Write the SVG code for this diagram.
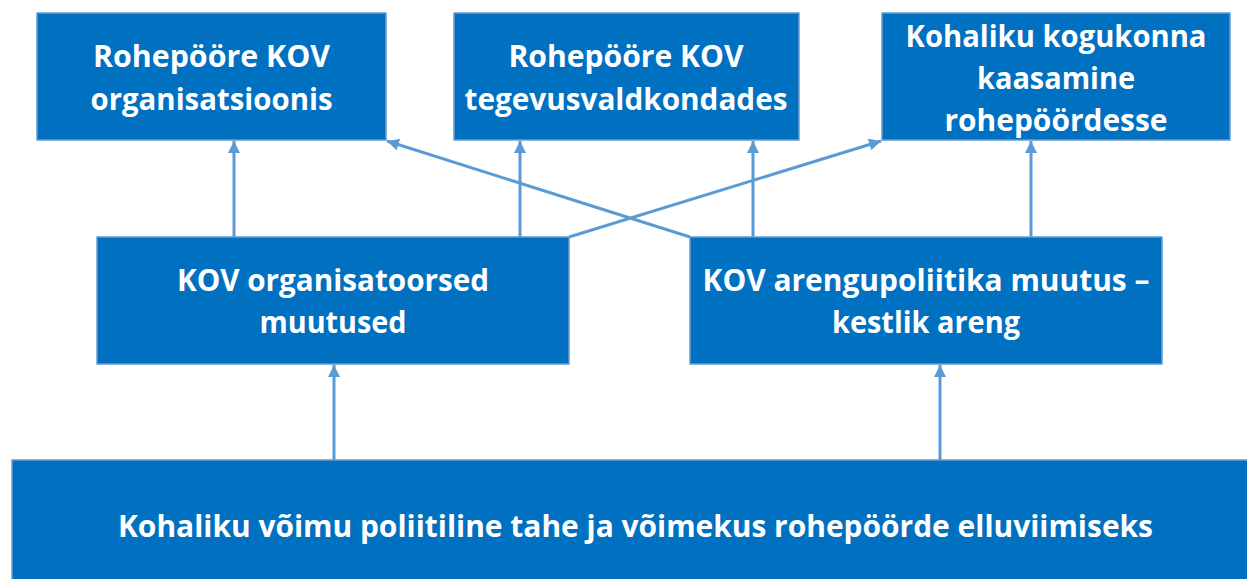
<svg xmlns="http://www.w3.org/2000/svg" width="1247" height="579" viewBox="0 0 1247 579">
<style>
.box{fill:#0070C0;stroke:#6A9BCB;stroke-width:1.5}
.t{font-family:"Open Sans","Noto Sans","Liberation Sans",sans-serif;font-weight:bold;font-size:31px;fill:#FFFFFF;text-anchor:middle}
.c{stroke:#5B9BD5;stroke-width:3;fill:none;marker-end:url(#ah)}
</style>
<defs>
<marker id="ah" markerUnits="userSpaceOnUse" markerWidth="14" markerHeight="12" refX="12" refY="6" orient="auto">
<path d="M0,0 L12,6 L0,12 Z" fill="#5B9BD5"/>
</marker>
</defs>
<rect width="1247" height="579" fill="#FFFFFF"/>
<g id="connectors">
<line class="c" x1="234" y1="237" x2="234" y2="141"/>
<line class="c" x1="520" y1="237" x2="520" y2="141"/>
<line class="c" x1="753" y1="237" x2="753" y2="141"/>
<line class="c" x1="1031" y1="237" x2="1031" y2="141"/>
<line class="c" x1="569" y1="237" x2="881" y2="141"/>
<line class="c" x1="690" y1="237" x2="387" y2="141"/>
<line class="c" x1="334" y1="460" x2="334" y2="365"/>
<line class="c" x1="940" y1="460" x2="940" y2="365"/>
</g>
<g id="n1">
<rect class="box" x="37" y="13" width="349" height="127"/>
<text class="t" x="211.5" y="67" textLength="237" lengthAdjust="spacingAndGlyphs">Rohepööre KOV</text>
<text class="t" x="211.5" y="110" textLength="242" lengthAdjust="spacingAndGlyphs">organisatsioonis</text>
</g>
<g id="n2">
<rect class="box" x="454" y="13" width="345" height="127"/>
<text class="t" x="626" y="67" textLength="235" lengthAdjust="spacingAndGlyphs">Rohepööre KOV</text>
<text class="t" x="626" y="110" textLength="323" lengthAdjust="spacingAndGlyphs">tegevusvaldkondades</text>
</g>
<g id="n3">
<rect class="box" x="882" y="13" width="348" height="127"/>
<text class="t" x="1056" y="47" textLength="301" lengthAdjust="spacingAndGlyphs">Kohaliku kogukonna</text>
<text class="t" x="1056" y="89" textLength="158" lengthAdjust="spacingAndGlyphs">kaasamine</text>
<text class="t" x="1056" y="131" textLength="223" lengthAdjust="spacingAndGlyphs">rohepöördesse</text>
</g>
<g id="n4">
<rect class="box" x="97" y="237" width="472" height="127"/>
<text class="t" x="333" y="291" textLength="312" lengthAdjust="spacingAndGlyphs">KOV organisatoorsed</text>
<text class="t" x="333" y="333" textLength="147" lengthAdjust="spacingAndGlyphs">muutused</text>
</g>
<g id="n5">
<rect class="box" x="690" y="237" width="472" height="127"/>
<text class="t" x="926" y="291" textLength="447" lengthAdjust="spacingAndGlyphs">KOV arengupoliitika muutus –</text>
<text class="t" x="926" y="333" textLength="188" lengthAdjust="spacingAndGlyphs">kestlik areng</text>
</g>
<g id="n6">
<rect class="box" x="12" y="460" width="1240" height="125"/>
<text class="t" x="635.5" y="537" textLength="1035" lengthAdjust="spacingAndGlyphs">Kohaliku võimu poliitiline tahe ja võimekus rohepöörde elluviimiseks</text>
</g>
</svg>
